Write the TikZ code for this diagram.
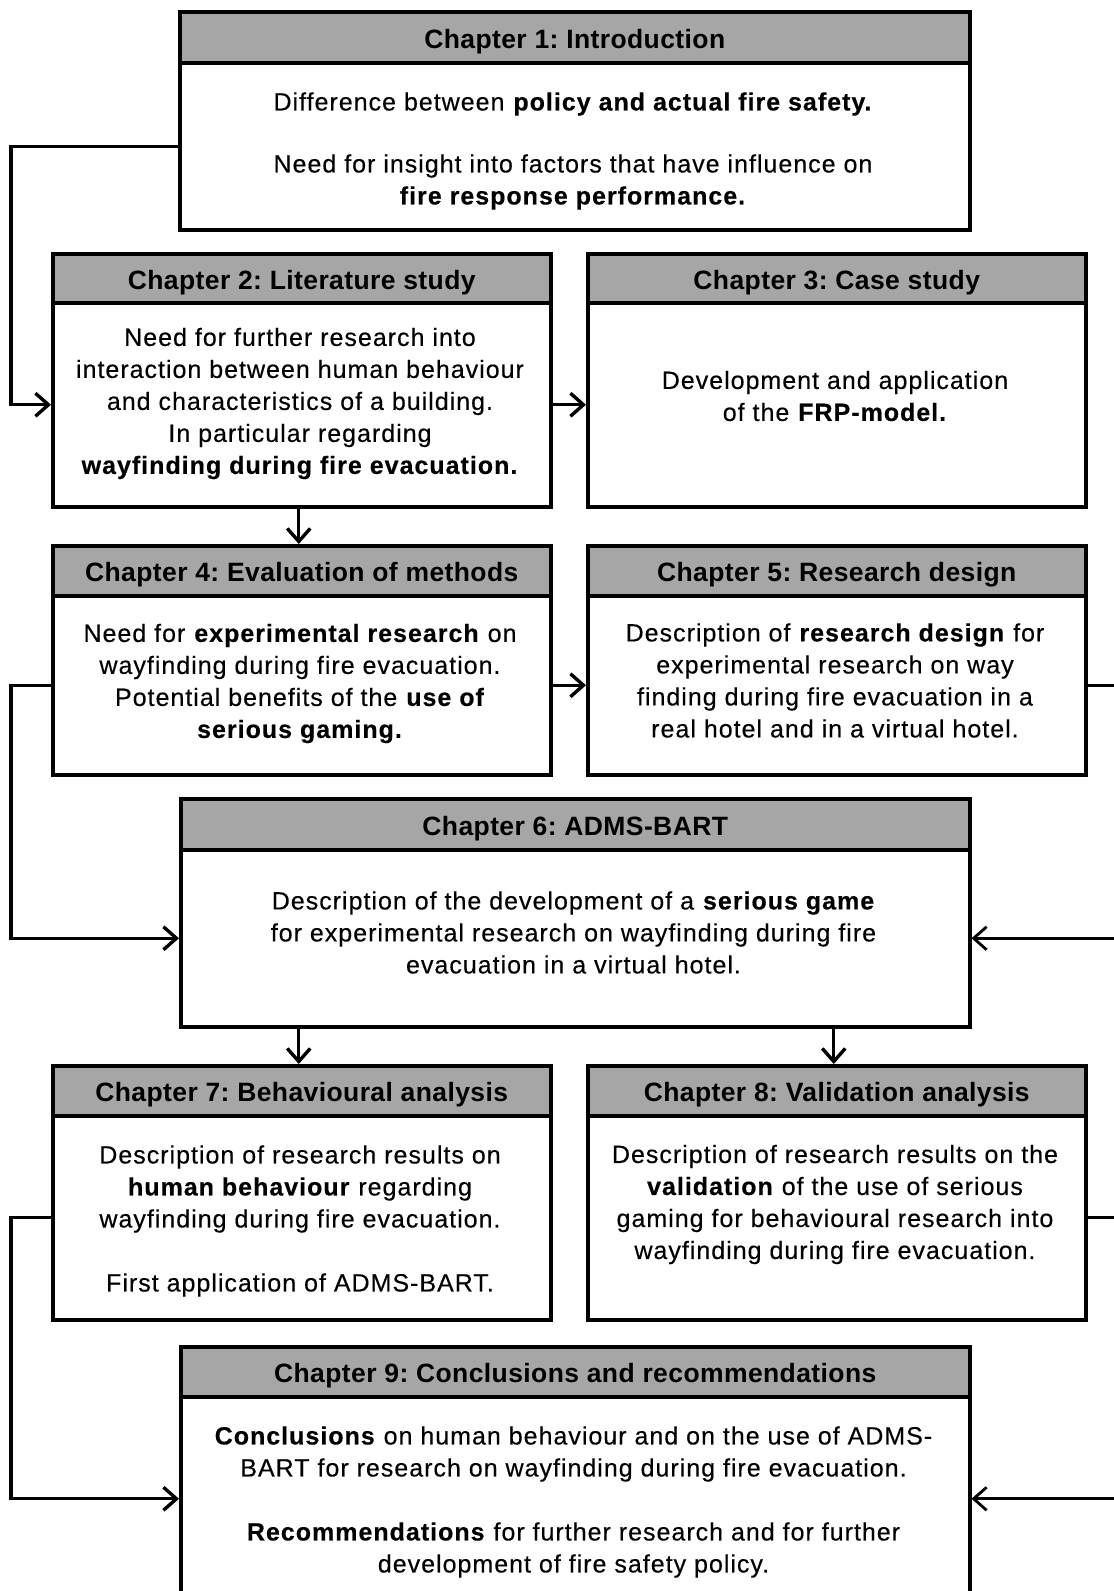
\documentclass[tikz,border=0pt]{standalone}
\usepackage{fontspec}
\setmainfont{Liberation Sans}
\newfontfamily\bodyfont{Liberation Sans}[LetterSpace=4, FakeBold=0.3]
\newfontfamily\headfont{Liberation Sans}[LetterSpace=1.5]
\usetikzlibrary{arrows.meta}
\definecolor{headgray}{RGB}{166,166,166}

\begin{document}
\frenchspacing
\begin{tikzpicture}[x=1pt,y=-1pt,
  box/.style={draw=black, line width=3.5pt, fill=white, inner sep=0pt,
              anchor=north west, line join=miter},
  head/.style={box, fill=headgray, font=\headfont\fontsize{26.5}{32}\selectfont\bfseries,
               text height=25pt, text depth=3pt},
  txt/.style={align=center, inner sep=0pt, font=\bodyfont\fontsize{25}{32}\selectfont},
  conn/.style={line width=3.4pt, -{Straight Barb[length=13pt,width=23pt]}},
  connthin/.style={conn, line width=2.8pt}
]
\useasboundingbox (0,0) rectangle (1114,1591);
\clip (0,0) rectangle (1114,1591);
\fill[white] (0,0) rectangle (1114,1591);

% chapter bodies
\node[box, minimum width=790pt, minimum height=167pt] (c1) at (178,61) {};
\node[box, minimum width=498pt, minimum height=204pt] (c2) at (51,301) {};
\node[box, minimum width=498pt, minimum height=204pt] (c3) at (586,301) {};
\node[box, minimum width=498pt, minimum height=179pt] (c4) at (51,594) {};
\node[box, minimum width=498pt, minimum height=179pt] (c5) at (586,594) {};
\node[box, minimum width=789pt, minimum height=177pt] (c6) at (179,848) {};
\node[box, minimum width=498pt, minimum height=204pt] (c7) at (51,1114) {};
\node[box, minimum width=498pt, minimum height=204pt] (c8) at (586,1114) {};
\node[box, minimum width=789pt, minimum height=204pt] (c9) at (179,1395) {};

% chapter headers
\node[head, minimum width=790pt, minimum height=51pt] (h1) at (178,10) {Chapter 1: Introduction};
\node[head, minimum width=498pt, minimum height=49pt] (h2) at (51,252) {Chapter 2: Literature study};
\node[head, minimum width=498pt, minimum height=49pt] (h3) at (586,252) {Chapter 3: Case study};
\node[head, minimum width=498pt, minimum height=50pt] (h4) at (51,544) {Chapter 4: Evaluation of methods};
\node[head, minimum width=498pt, minimum height=50pt] (h5) at (586,544) {Chapter 5: Research design};
\node[head, minimum width=789pt, minimum height=51pt] (h6) at (179,797) {Chapter 6: ADMS-BART};
\node[head, minimum width=498pt, minimum height=50pt] (h7) at (51,1064) {Chapter 7: Behavioural analysis};
\node[head, minimum width=498pt, minimum height=50pt] (h8) at (586,1064) {Chapter 8: Validation analysis};
\node[head, minimum width=789pt, minimum height=50pt] (h9) at (179,1345) {Chapter 9: Conclusions and recommendations};

% body texts
\node[txt] (t1) at (573,151) {Difference between \textbf{policy and actual fire safety.}\\[30pt]
  Need for insight into factors that have influence on\\ \textbf{fire response performance.}};
\node[txt] (t2) at (300,403.5) {Need for further research into\\ interaction between human behaviour\\
  and characteristics of a building.\\ In particular regarding\\ \textbf{wayfinding during fire evacuation.}};
\node[txt] (t3) at (835,396) {Development and application\\ of the \textbf{FRP-model.}};
\node[txt] (t4) at (300,683.5) {Need for \textbf{experimental research} on\\ wayfinding during fire evacuation.\\
  Potential benefits of the \textbf{use of}\\ \textbf{serious gaming.}};
\node[txt] (t5) at (835,680.5) {Description of \textbf{research design} for\\ experimental research on way\\
  finding during fire evacuation in a\\ real hotel and in a virtual hotel.};
\node[txt] (t6) at (573.5,932.5) {Description of the development of a \textbf{serious game}\\
  for experimental research on wayfinding during fire\\ evacuation in a virtual hotel.};
\node[txt] (t7) at (300,1221) {Description of research results on\\ \textbf{human behaviour} regarding\\
  wayfinding during fire evacuation.\\[32pt] First application of ADMS-BART.};
\node[txt] (t8) at (835,1204.5) {Description of research results on the\\ \textbf{validation} of the use of serious\\
  gaming for behavioural research into\\ wayfinding during fire evacuation.};
\node[txt] (t9) at (573.5,1502) {\textbf{Conclusions} on human behaviour and on the use of ADMS-\\
  BART for research on wayfinding during fire evacuation.\\[32pt]
  \textbf{Recommendations} for further research and for further\\ development of fire safety policy.};

% rails for the side connectors
\coordinate (L) at (11,0);
\coordinate (R) at (1126,0);

% connectors
\draw[conn] (c1.west) -- (c1.west -| L) |- (c2.west);
\draw[conn] (c2.east) -- (c3.west);
\draw[conn] ([xshift=-3pt]h4.north |- c2.south) -- ([xshift=-3pt]h4.north);
\draw[conn] (c4.east) -- (c5.west);
\draw[conn] (c4.west) -- (c4.west -| L) |- (c6.west);
\draw[connthin] (c5.east) -- (c5.east -| R) |- (c6.east);
\draw[conn] ([xshift=-3pt]h7.north |- c6.south) -- ([xshift=-3pt]h7.north);
\draw[conn] ([xshift=-3pt]h8.north |- c6.south) -- ([xshift=-3pt]h8.north);
\draw[conn] (c7.west) -- (c7.west -| L) |- (c9.west);
\draw[connthin] (c8.east) -- (c8.east -| R) |- (c9.east);
\end{tikzpicture}
\end{document}
